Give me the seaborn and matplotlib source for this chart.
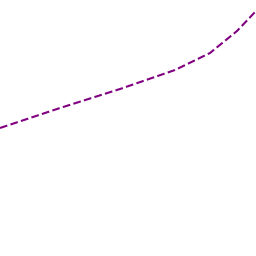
import matplotlib
matplotlib.use("Agg")
import matplotlib.pyplot as plt
import seaborn as sns
import pandas as pd

x_vals = [0, 60, 120, 175, 210, 237, 256]
y_vals = [128, 148, 167, 186, 203, 225, 245]

df = pd.DataFrame({"x": x_vals, "y": y_vals})

fig = plt.figure(figsize=(2.56, 2.56), dpi=100)
ax = fig.add_axes([0, 0, 1, 1])
sns.lineplot(data=df, x="x", y="y", ax=ax, color="purple", linestyle="--",
             linewidth=1.5, sort=False)
ax.set_xlim(0, 256)
ax.set_ylim(0, 256)
ax.axis("off")
fig.savefig("out.png", dpi=100)
